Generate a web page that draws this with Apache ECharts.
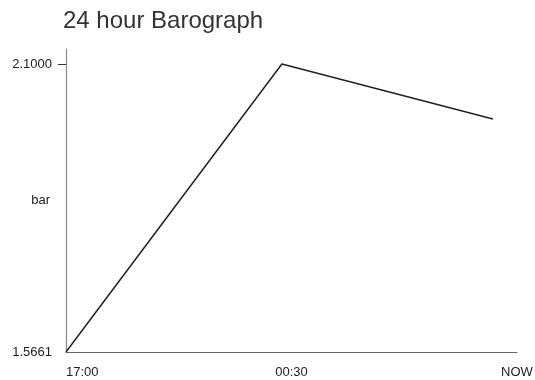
<!DOCTYPE html>
<html>
<head>
<meta charset="utf-8">
<title>24 hour Barograph</title>
<script src="https://cdn.jsdelivr.net/npm/echarts@6/dist/echarts.min.js"></script>
<style>
  html, body { margin: 0; padding: 0; background: #fff; }
  #chart { width: 535px; height: 380px; }
</style>
</head>
<body>
<div id="chart"></div>
<script>
// Pressure readings: hours since 17:00 and pressure in bar
const hours = [0, 7.18, 14.2];
const pressure = [1.5661, 2.1000, 1.998];

// Time axis span (hours) and its labelled positions
const spanHours = 15;
const timeTickHours = [0, 7.5, 15];
const timeTickLabels = ['17:00', '00:30', 'NOW'];

// Labelled pressure values
const pressureTicks = [1.5661, 2.1000];
const pressureMax = 2.1278;

const labelFont = '"Liberation Sans", Arial, sans-serif';

const chart = echarts.init(document.getElementById('chart'), null, { renderer: 'canvas' });

chart.setOption({
  animation: false,
  backgroundColor: '#ffffff',
  title: {
    text: '24 hour Barograph',
    left: 58,
    top: 4,
    textStyle: {
      fontFamily: labelFont,
      fontSize: 24,
      fontWeight: 'normal',
      color: '#333333'
    }
  },
  grid: {
    left: 66, right: 18, top: 49, bottom: 28,
    containLabel: false,
    outerBoundsMode: 'none'
  },
  xAxis: {
    type: 'value',
    min: 0,
    max: spanHours,
    splitLine: { show: false },
    axisLine: { show: true, lineStyle: { color: '#666666', width: 1.2 } },
    axisTick: { show: false },
    axisLabel: {
      customValues: timeTickHours,
      alignMinLabel: 'left',
      margin: 14,
      fontFamily: labelFont,
      fontSize: 13,
      color: '#222222',
      formatter: function (v) {
        const i = timeTickHours.indexOf(v);
        return i >= 0 ? timeTickLabels[i] : '';
      }
    }
  },
  yAxis: {
    type: 'value',
    min: pressureTicks[0],
    max: pressureMax,
    name: 'bar',
    nameLocation: 'middle',
    nameRotate: 0,
    nameGap: 16,
    nameMoveOverlap: false,
    nameTextStyle: {
      fontFamily: labelFont,
      fontSize: 13,
      color: '#222222',
      align: 'right',
      verticalAlign: 'middle'
    },
    splitLine: { show: false },
    axisLine: { show: true, lineStyle: { color: '#888888', width: 1.2 } },
    axisTick: {
      show: true,
      customValues: [pressureTicks[1]],
      length: 8,
      lineStyle: { color: '#333333', width: 1 }
    },
    axisLabel: {
      customValues: pressureTicks,
      margin: 14,
      fontFamily: labelFont,
      fontSize: 13,
      color: '#222222',
      formatter: function (v) { return Number(v).toFixed(4); }
    }
  },
  series: [{
    type: 'line',
    data: hours.map((h, i) => [h, pressure[i]]),
    showSymbol: false,
    lineStyle: { color: '#222222', width: 1.5 },
    silent: true
  }]
});
</script>
</body>
</html>
